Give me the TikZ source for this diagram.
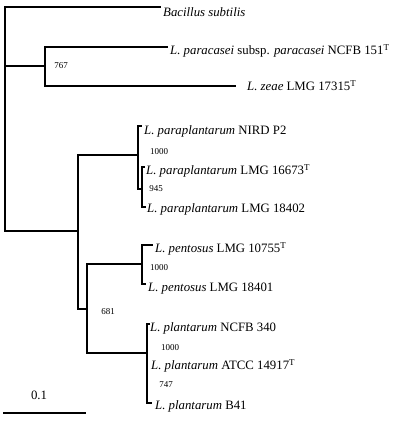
\documentclass[tikz,border=0pt]{standalone}
\usepackage{fontspec}
\setmainfont{Liberation Serif}
\begin{document}
\begin{tikzpicture}[x=1pt,y=-1pt,
  br/.style={line width=1.5pt, line cap=rect, line join=miter},
  lab/.style={anchor=west, inner sep=0pt, font=\fontsize{12.8}{14}\selectfont, text height=8.7pt, text depth=2.8pt},
  bs/.style={inner sep=0pt, font=\fontsize{9}{10}\selectfont}]
\useasboundingbox (0,0) rectangle (400,423);
% coordinates of tree nodes
\coordinate (n0top) at (5,7);
\coordinate (n0mid) at (5,66);
\coordinate (n0bot) at (5,231);
\coordinate (tBs) at (160,7);
\coordinate (n1a) at (45,47);
\coordinate (n1) at (45,66);
\coordinate (n1b) at (45,86);
\coordinate (tPc) at (167,47);
\coordinate (tZe) at (235,86);
\coordinate (n2a) at (78,155);
\coordinate (n2) at (78,231);
\coordinate (n2b) at (78,309);
\coordinate (n3) at (138,155);
\coordinate (n3a) at (138,126);
\coordinate (n3b) at (138,189);
\coordinate (tNI) at (141,126);
\coordinate (n4) at (142,189);
\coordinate (n4a) at (142,167);
\coordinate (n4b) at (142,207);
\coordinate (t16) at (144,167);
\coordinate (t18) at (145,207);
\coordinate (n5a) at (87,264);
\coordinate (n5) at (87,309);
\coordinate (n5b) at (87,353);
\coordinate (n6) at (142,264);
\coordinate (n6a) at (142,245);
\coordinate (n6b) at (142,284);
\coordinate (t10) at (152,245);
\coordinate (t01) at (145,284);
\coordinate (n7) at (147,353);
\coordinate (n7a) at (147,324);
\coordinate (n7b) at (147,403);
\coordinate (tNC) at (149,324);
\coordinate (tB4) at (151,403);
\coordinate (sb1) at (4,413);
\coordinate (sb2) at (85,413);
% branches
\draw[br] (tBs) -- (n0top) -- (n0bot) -- (n2);
\draw[br] (n0mid) -- (n1);
\draw[br] (tPc) -- (n1a) -- (n1b) -- (tZe);
\draw[br] (n2a) -- (n2b) -- (n5);
\draw[br] (n2a) -- (n3);
\draw[br] (tNI) -- (n3a) -- (n3b) -- (n4);
\draw[br] (t16) -- (n4a) -- (n4b) -- (t18);
\draw[br] (n5a) -- (n5b) -- (n7);
\draw[br] (n5a) -- (n6);
\draw[br] (t10) -- (n6a) -- (n6b) -- (t01);
\draw[br] (tNC) -- (n7a) -- (n7b) -- (tB4);
\draw[br] (sb1) -- (sb2);
% labels
\node[lab] (lBs) at (163,14) {\textit{Bacillus subtilis}};
\node[lab] (lPc) at (170,52) {\textit{L. paracasei} subsp. \textit{paracasei} NCFB 151\textsuperscript{T}};
\node[lab] (lZe) at (247,88) {\textit{L. zeae} LMG 17315\textsuperscript{T}};
\node[lab] (lNI) at (144,131.5) {\textit{L. paraplantarum} NIRD P2};
\node[lab] (l16) at (146,171.5) {\textit{L. paraplantarum} LMG 16673\textsuperscript{T}};
\node[lab] (l18) at (147,210) {\textit{L. paraplantarum} LMG 18402};
\node[lab] (l10) at (155,250) {\textit{L. pentosus} LMG 10755\textsuperscript{T}};
\node[lab] (l01) at (148,289) {\textit{L. pentosus} LMG 18401};
\node[lab] (lNC) at (150,329) {\textit{L. plantarum} NCFB 340};
\node[lab] (lAT) at (151,367) {\textit{L. plantarum} ATCC 14917\textsuperscript{T}};
\node[lab] (lB4) at (155,407) {\textit{L. plantarum} B41};
% bootstrap values
\node[bs] (b767) at (61,66) {767};
\node[bs] (b1000a) at (159,152) {1000};
\node[bs] (b945) at (156,189) {945};
\node[bs] (b1000b) at (159,268) {1000};
\node[bs] (b681) at (108,312) {681};
\node[bs] (b1000c) at (170,348) {1000};
\node[bs] (b747) at (166,385) {747};
% scale
\node[inner sep=0pt, font=\fontsize{12.8}{14}\selectfont] (sc) at (39,395) {0.1};
\end{tikzpicture}
\end{document}
